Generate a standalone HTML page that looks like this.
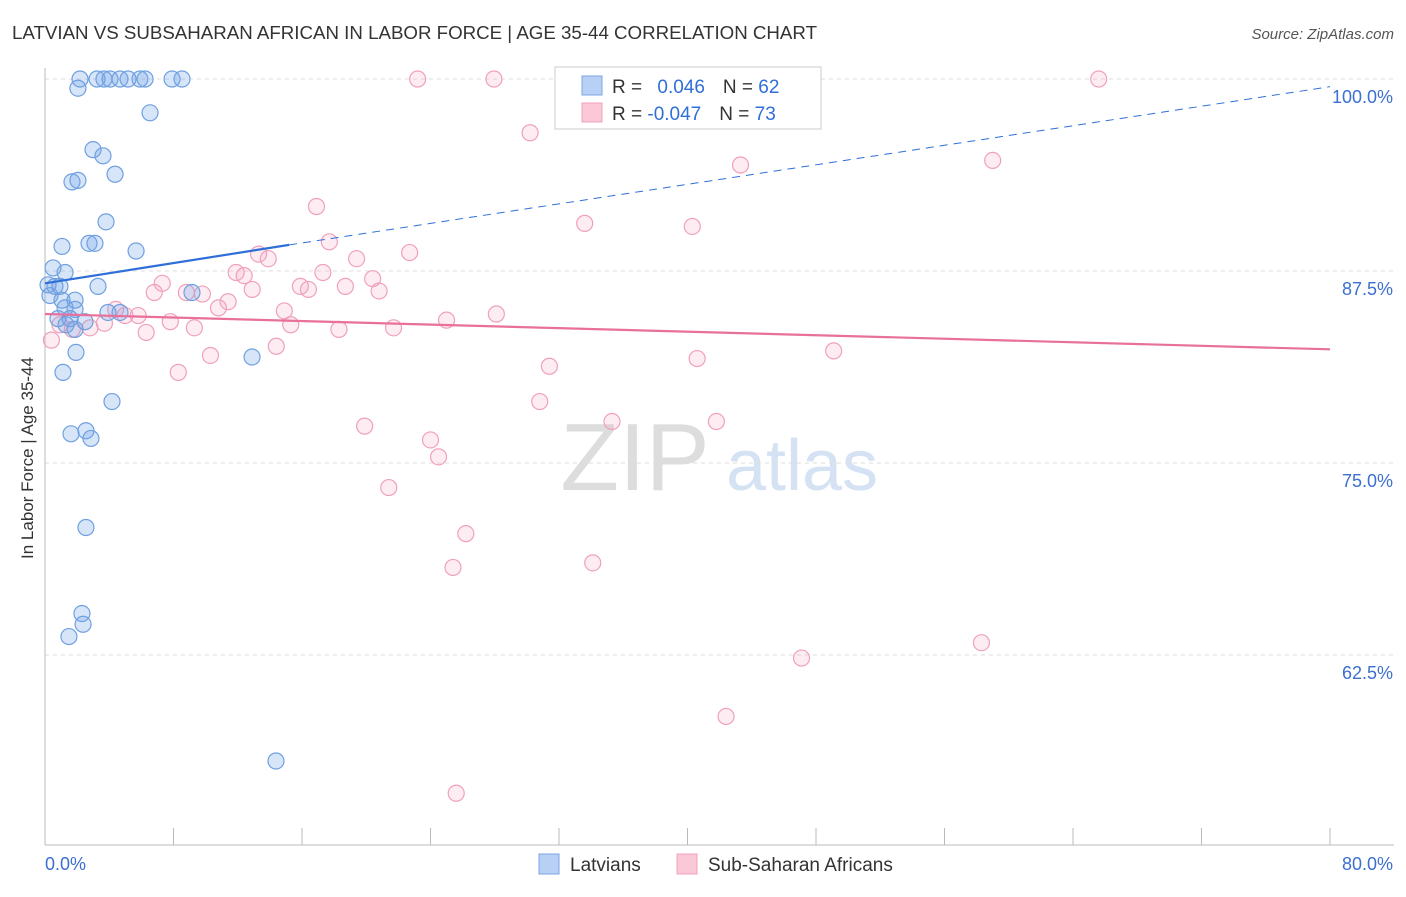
<!DOCTYPE html>
<html><head><meta charset="utf-8">
<style>
body{margin:0;background:#fff;font-family:"Liberation Sans",sans-serif;}
svg text{font-family:"Liberation Sans",sans-serif;}
</style></head>
<body>
<svg id="chart" width="1406" height="892" xmlns="http://www.w3.org/2000/svg">
<text x="12" y="39" font-size="18" fill="#333" textLength="805" lengthAdjust="spacingAndGlyphs">LATVIAN VS SUBSAHARAN AFRICAN IN LABOR FORCE | AGE 35-44 CORRELATION CHART</text>
<text x="1394" y="39" font-size="15" fill="#555" text-anchor="end" font-style="italic">Source: ZipAtlas.com</text>
<text transform="translate(33,458) rotate(-90)" font-size="17" fill="#333" text-anchor="middle">In Labor Force | Age 35-44</text>
<g>
<text x="635" y="490" font-size="96" fill="#ddd" text-anchor="middle" font-family="Liberation Serif">ZIP</text>
<text x="802" y="490" font-size="72" fill="#d4e2f4" text-anchor="middle">atlas</text>
</g>
<g id="grid"></g>
<g id="axes"></g>
<g id="pts"></g>
<g id="lines"></g>
<g>
<rect x="555" y="67" width="266" height="62" fill="#fff" stroke="#ccc"/>
<rect x="582" y="76" width="20" height="19" fill="#b8d0f4" stroke="#7aa6e6"/>
<rect x="582" y="103" width="20" height="19" fill="#fbc8d8" stroke="#f0a0bc"/>
<text x="612" y="93" font-size="19" fill="#333">R = <tspan fill="#2f6fd8" dx="10">0.046</tspan><tspan dx="18" fill="#333">N = </tspan><tspan fill="#2f6fd8">62</tspan></text>
<text x="612" y="120" font-size="19" fill="#333">R = <tspan fill="#2f6fd8">-0.047</tspan><tspan dx="18" fill="#333">N = </tspan><tspan fill="#2f6fd8">73</tspan></text>
</g>
<g>
<rect x="539" y="854" width="20" height="20" fill="#b8d0f4" stroke="#7aa6e6"/>
<text x="570" y="871" font-size="19" fill="#333">Latvians</text>
<rect x="677" y="854" width="20" height="20" fill="#fbc8d8" stroke="#f0a0bc"/>
<text x="708" y="871" font-size="19" fill="#333">Sub-Saharan Africans</text>
</g>
</svg>
<script>
const yTicks=[100,87.5,75,62.5];
const yTickLabels=["100.0%","87.5%","75.0%","62.5%"];
const xTicks=[0,8,16,24,32,40,48,56,64,72,80];
const blueX=[2.18,3.24,3.67,4.05,4.67,5.17,5.91,6.23,7.91,8.53,2.05,6.54,2.99,3.61,4.36,1.68,2.05,3.80,1.06,2.74,3.11,5.67,0.50,1.25,0.19,0.62,0.93,3.30,0.31,1.06,1.87,9.15,1.25,1.87,3.92,4.67,0.81,1.56,2.49,1.31,1.87,1.93,1.12,12.89,4.17,1.62,2.55,2.86,2.55,2.30,2.37,1.49,14.38];
const blueY=[100,100,100,100,100,100,100,100,100,100,99.4,97.8,95.4,95.0,93.8,93.3,93.4,90.7,89.1,89.3,89.3,88.8,87.7,87.4,86.6,86.5,86.5,86.5,85.9,85.6,85.6,86.1,85.1,85.0,84.8,84.8,84.4,84.4,84.2,84.0,83.7,82.2,80.9,81.9,79.0,76.9,77.1,76.6,70.8,65.2,64.5,63.7,55.6];
const pinkX=[23.2,27.95,33.0,65.6,30.2,43.3,59.0,16.9,33.6,40.3,17.7,22.7,13.3,13.9,19.4,11.9,12.4,17.3,20.4,7.3,6.8,8.8,9.8,12.9,15.9,16.4,18.7,20.8,11.4,10.8,14.9,28.1,4.4,4.98,5.8,7.8,25.0,15.3,9.3,18.3,21.7,6.3,2.8,3.7,1.7,0.93,0.4,14.4,10.3,40.6,49.1,31.4,8.3,30.8,35.3,41.8,19.9,24.0,24.5,21.4,26.2,25.4,34.1,58.3,47.1,42.4,25.6];
const pinkY=[100,100,100,100,96.5,94.4,94.7,91.7,90.6,90.4,89.4,88.7,88.6,88.3,88.3,87.4,87.2,87.4,87.0,86.7,86.1,86.1,86.0,86.3,86.5,86.3,86.5,86.2,85.5,85.1,84.9,84.7,85.0,84.6,84.6,84.2,84.3,84.0,83.8,83.7,83.8,83.5,83.8,84.1,83.7,84.0,83.0,82.6,82.0,81.8,82.3,81.3,80.9,79.0,77.7,77.7,77.4,76.5,75.4,73.4,70.4,68.2,68.5,63.3,62.3,58.5,53.5];
const blueTrend=[[0,86.7],[15.2,89.2],[80,99.5]];
const pinkTrend=[[0,84.7],[80,82.4]];
const NS="http://www.w3.org/2000/svg";
const X=v=>45+v*(1285/80);
const Y=v=>79+(100-v)*15.36;
function mk(t,a,p){const e=document.createElementNS(NS,t);for(const k in a)e.setAttribute(k,a[k]);p.appendChild(e);return e;}
const grid=document.getElementById('grid'),axes=document.getElementById('axes'),pts=document.getElementById('pts'),lines=document.getElementById('lines');
yTicks.forEach((t,i)=>{
 const l=mk('line',{x1:45,x2:1394,y1:Y(t),y2:Y(t),stroke:'#ddd','stroke-dasharray':'4,4'},grid);
 
 
 const tx=mk('text',{x:1393,y:Y(t)+24,'font-size':18,fill:'#3b6fd0','text-anchor':'end'},axes);
 tx.textContent=yTickLabels[i];
 
 
});
const ax=mk('line',{x1:45,x2:1394,y1:845,y2:845,stroke:'#bbb'},axes);


const ay=mk('line',{x1:45,x2:45,y1:68,y2:845,stroke:'#bbb'},axes);


xTicks.forEach(t=>{
 const l=mk('line',{x1:X(t),x2:X(t),y1:828,y2:845,stroke:'#bbb'},axes);
 
 
});
[[0,'0.0%','start',45],[80,'80.0%','end',1393]].forEach(d=>{
 const tx=mk('text',{x:d[3],y:870,'font-size':18,fill:'#3b6fd0','text-anchor':d[2]},axes);
 tx.textContent=d[1];
 
 
});
pinkX.forEach((v,i)=>{
 const c=mk('circle',{cx:X(v),cy:Y(pinkY[i]),r:8,fill:'rgba(244,160,190,0.2)',stroke:'#f0a0bc','stroke-width':1.2},pts);
 
 
});
blueX.forEach((v,i)=>{
 const c=mk('circle',{cx:X(v),cy:Y(blueY[i]),r:8,fill:'rgba(110,160,230,0.28)',stroke:'#6fa0e0','stroke-width':1.2},pts);
 
 
});
const b1=mk('line',{x1:X(blueTrend[0][0]),y1:Y(blueTrend[0][1]),x2:X(blueTrend[1][0]),y2:Y(blueTrend[1][1]),stroke:'#2f6fd8','stroke-width':2.2},lines);


const b2=mk('line',{x1:X(blueTrend[1][0]),y1:Y(blueTrend[1][1]),x2:X(blueTrend[2][0]),y2:Y(blueTrend[2][1]),stroke:'#2f6fd8','stroke-width':1,'stroke-dasharray':'8,6'},lines);


const p1=mk('line',{x1:X(pinkTrend[0][0]),y1:Y(pinkTrend[0][1]),x2:X(pinkTrend[1][0]),y2:Y(pinkTrend[1][1]),stroke:'#e8709a','stroke-width':2.2},lines);


</script>
</body></html>
